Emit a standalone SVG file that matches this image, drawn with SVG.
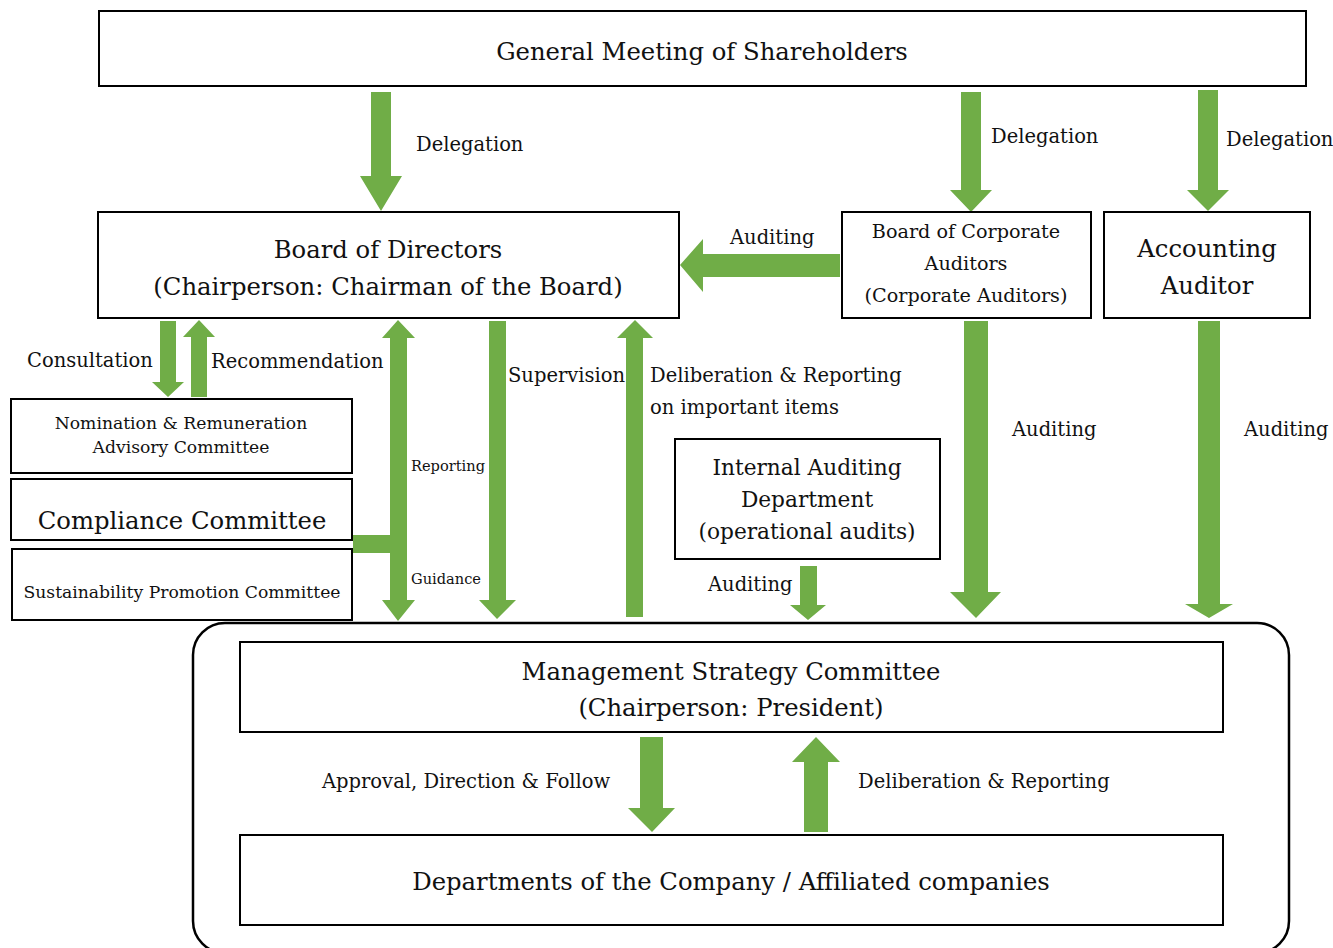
<svg xmlns="http://www.w3.org/2000/svg" width="1333" height="948" viewBox="0 0 1333 948">
<style>
.box{fill:#fff;stroke:#000;stroke-width:2}
.arr{fill:#70AD47}
text{font-family:"DejaVu Serif","Liberation Serif",serif;fill:#111}
.l{font-size:24.3px}
.m{font-size:19.5px}
.bc{font-size:19.2px}
.ia{font-size:21.7px}
.xs{font-size:17.2px}
.xxs{font-size:14.6px}
.c{text-anchor:middle}
</style>
<rect width="1333" height="948" fill="#fff"/>
<g id="connectors">
<polygon class="arr" points="371,92 391,92 391,176 402,176 381,211 360,176 371,176"/>
<polygon class="arr" points="961,92 981,92 981,190 992,190 971,212 950,190 961,190"/>
<polygon class="arr" points="1198,90 1218,90 1218,190 1229,190 1208,211 1187,190 1198,190"/>
<polygon class="arr" points="840,254 703,254 703,239 680,265 703,292 703,277 840,277"/>
<polygon class="arr" points="160,321 176,321 176,382 184,382 168,397 152,382 160,382"/>
<polygon class="arr" points="191,397 207,397 207,337 215,337 199,320 183,337 191,337"/>
<polygon class="arr" points="390,338 382,338 398,320 415,338 407,338 407,600 415,600 398,621 382,600 390,600 390,553 353,553 353,535 390,535"/>
<polygon class="arr" points="489,321 506,321 506,600 516,600 497,619 479,600 489,600"/>
<polygon class="arr" points="626,617 643,617 643,338 653,338 635,320 617,338 626,338"/>
<polygon class="arr" points="800,566 817,566 817,605 826,605 808,620 790,605 800,605"/>
<polygon class="arr" points="964,321 988,321 988,592 1001,592 976,618 950,592 964,592"/>
<polygon class="arr" points="1198,321 1220,321 1220,604 1233,604 1209,618 1185,604 1198,604"/>
<polygon class="arr" points="640,737 663,737 663,808 675,808 652,832 628,808 640,808"/>
<polygon class="arr" points="804,832 828,832 828,762 840,762 816,737 792,762 804,762"/>
<text class="m" x="416" y="151">Delegation</text>
<text class="m" x="991" y="143">Delegation</text>
<text class="m" x="1226" y="146">Delegation</text>
<text class="m" x="730" y="244">Auditing</text>
<text class="m" x="27" y="367">Consultation</text>
<text class="m" x="211" y="368">Recommendation</text>
<text class="xxs" x="411" y="471">Reporting</text>
<text class="xxs" x="411" y="584">Guidance</text>
<text class="m" x="508" y="382">Supervision</text>
<text class="m" x="650" y="382">Deliberation &amp; Reporting</text>
<text class="m" x="650" y="414">on important items</text>
<text class="m" x="708" y="591">Auditing</text>
<text class="m" x="1012" y="436">Auditing</text>
<text class="m" x="1244" y="436">Auditing</text>
<text class="m" x="322" y="788">Approval, Direction &amp; Follow</text>
<text class="m" x="858" y="788">Deliberation &amp; Reporting</text>
</g>
<g id="gms">
<rect class="box" x="99" y="11" width="1207" height="75"/>
<text class="l c" x="702" y="60">General Meeting of Shareholders</text>
</g>
<g id="bod">
<rect class="box" x="98" y="212" width="581" height="106"/>
<text class="l c" x="388" y="258">Board of Directors</text>
<text class="l c" x="388" y="295">(Chairperson: Chairman of the Board)</text>
</g>
<g id="boca">
<rect class="box" x="842" y="212" width="249" height="106"/>
<text class="bc c" x="966" y="238">Board of Corporate</text>
<text class="bc c" x="966" y="270">Auditors</text>
<text class="bc c" x="966" y="302">(Corporate Auditors)</text>
</g>
<g id="aa">
<rect class="box" x="1104" y="212" width="206" height="106"/>
<text class="l c" x="1207" y="257">Accounting</text>
<text class="l c" x="1207" y="294">Auditor</text>
</g>
<g id="nom">
<rect class="box" x="11" y="399" width="341" height="74"/>
<text class="xs c" x="181" y="429">Nomination &amp; Remuneration</text>
<text class="xs c" x="181" y="453">Advisory Committee</text>
</g>
<g id="comp">
<rect class="box" x="11" y="479" width="341" height="61"/>
<text class="l c" x="182" y="529">Compliance Committee</text>
</g>
<g id="sust">
<rect class="box" x="12" y="549" width="340" height="71"/>
<text class="xs c" x="182" y="598">Sustainability Promotion Committee</text>
</g>
<g id="iad">
<rect class="box" x="675" y="439" width="265" height="120"/>
<text class="ia c" x="807" y="475">Internal Auditing</text>
<text class="ia c" x="807" y="507">Department</text>
<text class="ia c" x="807" y="539">(operational audits)</text>
</g>
<g id="group">
<rect x="193" y="623" width="1096" height="330" rx="32" fill="none" stroke="#000" stroke-width="2.5"/>
</g>
<g id="msc">
<rect class="box" x="240" y="642" width="983" height="90"/>
<text class="l c" x="731" y="680">Management Strategy Committee</text>
<text class="l c" x="731" y="716">(Chairperson: President)</text>
</g>
<g id="dept">
<rect class="box" x="240" y="835" width="983" height="90"/>
<text class="l c" x="731" y="890">Departments of the Company / Affiliated companies</text>
</g>
</svg>
